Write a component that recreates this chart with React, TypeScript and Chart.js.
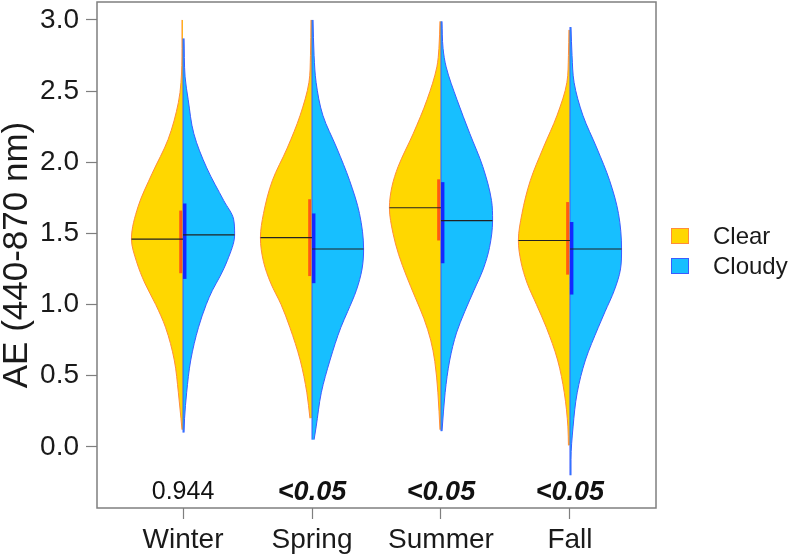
import React, { useEffect, useRef } from "react";
import { Chart, registerables } from "chart.js";

Chart.register(...registerables);

const SEASONS = ["Winter", "Spring", "Summer", "Fall"];
const P_VALUES = ["0.944", "<0.05", "<0.05", "<0.05"];
const P_SIGNIFICANT = [false, true, true, true];
const Y_TICKS = [0, 0.5, 1, 1.5, 2, 2.5, 3];

// Violin density profiles: [AE value, relative density (1 = widest)]
const WINTER_CLEAR = [[3.0, 0.02], [2.8, 0.02], [2.56, 0.04], [2.42, 0.09], [2.16, 0.29], [1.92, 0.6], [1.69, 0.87], [1.46, 1.0], [1.3, 0.9], [1.15, 0.74], [1.0, 0.53], [0.84, 0.34], [0.61, 0.17], [0.38, 0.09], [0.2, 0.04], [0.12, 0.02]];
const WINTER_CLOUDY = [[2.87, 0.02], [2.6, 0.04], [2.44, 0.1], [2.2, 0.21], [1.96, 0.46], [1.73, 0.79], [1.6, 0.98], [1.49, 1.0], [1.31, 0.86], [1.2, 0.72], [1.1, 0.57], [1.0, 0.45], [0.84, 0.3], [0.61, 0.15], [0.38, 0.07], [0.2, 0.03], [0.1, 0.02]];
const SPRING_CLEAR = [[3.0, 0.02], [2.75, 0.03], [2.56, 0.06], [2.33, 0.23], [2.1, 0.48], [1.87, 0.77], [1.64, 0.94], [1.47, 1.0], [1.3, 0.94], [1.15, 0.8], [1.0, 0.6], [0.84, 0.43], [0.61, 0.23], [0.38, 0.1], [0.2, 0.04]];
const SPRING_CLOUDY = [[3.0, 0.02], [2.75, 0.04], [2.56, 0.08], [2.33, 0.21], [2.1, 0.48], [1.87, 0.73], [1.64, 0.92], [1.39, 1.0], [1.25, 0.97], [1.1, 0.86], [0.95, 0.69], [0.84, 0.56], [0.61, 0.35], [0.38, 0.18], [0.14, 0.08], [0.05, 0.04]];
const SUMMER_CLEAR = [[2.99, 0.02], [2.8, 0.04], [2.67, 0.08], [2.44, 0.27], [2.2, 0.54], [1.97, 0.83], [1.83, 0.95], [1.68, 1.0], [1.5, 0.93], [1.35, 0.82], [1.2, 0.67], [1.05, 0.5], [0.9, 0.33], [0.75, 0.2], [0.6, 0.12], [0.38, 0.06], [0.12, 0.02]];
const SUMMER_CLOUDY = [[2.99, 0.02], [2.8, 0.04], [2.67, 0.1], [2.44, 0.31], [2.2, 0.56], [1.97, 0.81], [1.73, 0.98], [1.59, 1.0], [1.4, 0.94], [1.25, 0.82], [1.1, 0.64], [0.95, 0.46], [0.8, 0.3], [0.61, 0.17], [0.38, 0.08], [0.11, 0.02]];
const FALL_CLEAR = [[2.93, 0.02], [2.75, 0.03], [2.56, 0.06], [2.33, 0.25], [2.1, 0.52], [1.87, 0.77], [1.64, 0.93], [1.45, 1.0], [1.3, 0.95], [1.15, 0.83], [1.0, 0.65], [0.84, 0.46], [0.61, 0.24], [0.38, 0.11], [0.14, 0.04], [0.01, 0.03]];
const FALL_CLOUDY = [[2.95, 0.02], [2.75, 0.04], [2.56, 0.08], [2.33, 0.25], [2.1, 0.52], [1.87, 0.77], [1.64, 0.94], [1.39, 1.0], [1.25, 0.98], [1.1, 0.86], [0.95, 0.68], [0.84, 0.55], [0.61, 0.3], [0.38, 0.14], [0.14, 0.06], [-0.09, 0.02], [-0.2, 0.02]];

const CLEAR_PROFILES = [WINTER_CLEAR, SPRING_CLEAR, SUMMER_CLEAR, FALL_CLEAR];
const CLOUDY_PROFILES = [WINTER_CLOUDY, SPRING_CLOUDY, SUMMER_CLOUDY, FALL_CLOUDY];

const CLEAR_MEDIAN = [1.46, 1.47, 1.68, 1.45];
const CLOUDY_MEDIAN = [1.49, 1.39, 1.59, 1.39];
const CLEAR_Q1 = [1.22, 1.2, 1.45, 1.21];
const CLEAR_Q3 = [1.66, 1.74, 1.88, 1.72];
const CLOUDY_Q1 = [1.18, 1.15, 1.29, 1.07];
const CLOUDY_Q3 = [1.71, 1.64, 1.86, 1.58];

const HALF_WIDTH = 0.4;
const FONT = "'Liberation Sans', Arial, Helvetica, sans-serif";
const CLEAR_FILL = "#FFD700";
const CLEAR_LINE = "#FF8C3A";
const CLOUDY_FILL = "#17BFFF";
const CLOUDY_LINE = "#3B5BFF";
const CLEAR_BAR = "#FF5A14";
const CLOUDY_BAR = "#1428FF";

function sortedProfile(p: number[][]) {
  return [...p].sort((a, b) => a[0] - b[0]);
}

function densityAt(p: number[][], v: number) {
  const s = sortedProfile(p);
  for (let i = 0; i < s.length - 1; i++) {
    const [v0, d0] = s[i];
    const [v1, d1] = s[i + 1];
    if (v >= v0 && v <= v1) return d0 + ((d1 - d0) * (v - v0)) / (v1 - v0);
  }
  return 0;
}

const boxPlugin = {
  id: "boxPlugin",
  afterDraw(chart: any) {
    const { ctx, chartArea } = chart;
    ctx.save();
    ctx.strokeStyle = "#7f7f7f";
    ctx.lineWidth = 1.5;
    ctx.strokeRect(chartArea.left, chartArea.top, chartArea.right - chartArea.left, chartArea.bottom - chartArea.top);
    ctx.restore();
  },
};

const pValuePlugin = {
  id: "pValuePlugin",
  afterDatasetsDraw(chart: any) {
    const { ctx } = chart;
    const xs = chart.scales.x;
    const ys = chart.scales.y;
    ctx.save();
    ctx.fillStyle = "#111";
    ctx.textAlign = "center";
    ctx.textBaseline = "middle";
    P_VALUES.forEach((t, i) => {
      ctx.font = P_SIGNIFICANT[i] ? "italic bold 27px " + FONT : "25px " + FONT;
      ctx.fillText(t, xs.getPixelForValue(i + 1), ys.getPixelForValue(-0.32));
    });
    ctx.restore();
  },
};

export default function App() {
  const ref = useRef<HTMLCanvasElement | null>(null);

  useEffect(() => {
    if (!ref.current) return;
    const datasets: any[] = [];
    SEASONS.forEach((_, i) => {
      const c = i + 1;
      const clear = sortedProfile(CLEAR_PROFILES[i]);
      const cloudy = sortedProfile(CLOUDY_PROFILES[i]);
      const base = {
        pointRadius: 0,
        pointHoverRadius: 0,
        cubicInterpolationMode: "monotone",
        borderWidth: 1,
        order: 3,
      };
      datasets.push({
        ...base,
        label: "Clear " + SEASONS[i],
        data: clear.map(([v, d]) => ({ x: c - HALF_WIDTH * d, y: v })),
        backgroundColor: CLEAR_FILL,
        borderColor: CLEAR_LINE,
        fill: { value: c },
      });
      datasets.push({
        ...base,
        label: "Cloudy " + SEASONS[i],
        data: cloudy.map(([v, d]) => ({ x: c + HALF_WIDTH * d, y: v })),
        backgroundColor: CLOUDY_FILL,
        borderColor: CLOUDY_LINE,
        fill: { value: c },
      });
      datasets.push({
        label: "center " + i,
        data: [
          { x: c, y: cloudy[0][0] },
          { x: c, y: cloudy[cloudy.length - 1][0] },
        ],
        borderColor: CLOUDY_LINE,
        borderWidth: 1,
        pointRadius: 0,
        fill: false,
        order: 2,
      });
      datasets.push({
        label: "clear iqr " + i,
        data: [
          { x: c - 0.018, y: CLEAR_Q1[i] },
          { x: c - 0.018, y: CLEAR_Q3[i] },
        ],
        borderColor: CLEAR_BAR,
        borderWidth: 3,
        borderCapStyle: "butt",
        pointRadius: 0,
        fill: false,
        order: 1,
      });
      datasets.push({
        label: "cloudy iqr " + i,
        data: [
          { x: c + 0.013, y: CLOUDY_Q1[i] },
          { x: c + 0.013, y: CLOUDY_Q3[i] },
        ],
        borderColor: CLOUDY_BAR,
        borderWidth: 3.5,
        borderCapStyle: "butt",
        pointRadius: 0,
        fill: false,
        order: 1,
      });
      datasets.push({
        label: "clear median " + i,
        data: [
          { x: c - HALF_WIDTH * densityAt(clear, CLEAR_MEDIAN[i]), y: CLEAR_MEDIAN[i] },
          { x: c, y: CLEAR_MEDIAN[i] },
        ],
        borderColor: "#222",
        borderWidth: 1.2,
        pointRadius: 0,
        fill: false,
        order: 0,
      });
      datasets.push({
        label: "cloudy median " + i,
        data: [
          { x: c, y: CLOUDY_MEDIAN[i] },
          { x: c + HALF_WIDTH * densityAt(cloudy, CLOUDY_MEDIAN[i]), y: CLOUDY_MEDIAN[i] },
        ],
        borderColor: "#222",
        borderWidth: 1.2,
        pointRadius: 0,
        fill: false,
        order: 0,
      });
    });

    const chart = new Chart(ref.current, {
      type: "line",
      data: { datasets },
      plugins: [boxPlugin, pValuePlugin],
      options: {
        animation: false,
        responsive: false,
        indexAxis: "y",
        events: [],
        layout: { padding: { left: 0, top: 2, right: 136, bottom: 0 }, autoPadding: false },
        plugins: {
          legend: { display: false },
          tooltip: { enabled: false },
        },
        scales: {
          x: {
            type: "linear",
            position: "bottom",
            min: 0.333,
            max: 4.667,
            afterBuildTicks: (s: any) => {
              s.ticks = SEASONS.map((_, i) => ({ value: i + 1 }));
            },
            afterFit: (s: any) => {
              s.height = 50;
              s.paddingLeft = 0;
              s.paddingRight = 0;
            },
            border: { display: false },
            grid: { drawOnChartArea: false, drawTicks: true, tickLength: 11, tickColor: "#7f7f7f", tickWidth: 1.2 },
            ticks: {
              autoSkip: false,
              maxRotation: 0,
              padding: 4,
              color: "#1a1a1a",
              font: { family: FONT, size: 28 },
              callback: (v: any) => SEASONS[Number(v) - 1] ?? "",
            },
          },
          y: {
            type: "linear",
            min: -0.43,
            max: 3.126,
            afterBuildTicks: (s: any) => {
              s.ticks = Y_TICKS.map((v) => ({ value: v }));
            },
            afterFit: (s: any) => {
              s.width = 97;
              s.paddingTop = 0;
              s.paddingBottom = 0;
            },
            border: { display: false },
            grid: { drawOnChartArea: false, drawTicks: true, tickLength: 11, tickColor: "#7f7f7f", tickWidth: 1.2 },
            ticks: {
              padding: 7,
              color: "#1a1a1a",
              font: { family: FONT, size: 28 },
              callback: (v: any) => Number(v).toFixed(1),
            },
            title: {
              display: true,
              text: "AE (440-870 nm)",
              color: "#1a1a1a",
              font: { family: FONT, size: 35, lineHeight: 1 },
              padding: { top: 0, bottom: 0 },
            },
          },
        },
      } as any,
    });
    return () => chart.destroy();
  }, []);

  const legendItem = (label: string, fill: string, line: string, top: number) => (
    <div style={{ position: "absolute", left: 671, top, height: 16, display: "flex", alignItems: "center" }}>
      <div style={{ width: 16, height: 14, background: fill, border: `1px solid ${line}` }} />
      <span style={{ marginLeft: 24, font: `24px ${FONT}`, color: "#1a1a1a", lineHeight: "16px" }}>{label}</span>
    </div>
  );

  return (
    <div style={{ position: "fixed", left: 0, top: 0, width: 792, height: 558, background: "#fff" }}>
      <canvas ref={ref} width={792} height={558} style={{ width: 792, height: 558, display: "block" }} />
      {legendItem("Clear", CLEAR_FILL, CLEAR_LINE, 228)}
      {legendItem("Cloudy", CLOUDY_FILL, CLOUDY_LINE, 258)}
    </div>
  );
}
